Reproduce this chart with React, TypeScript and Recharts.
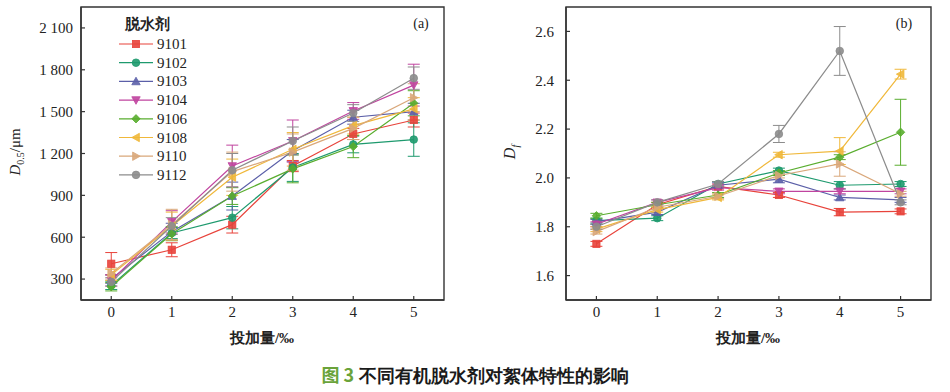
import React from 'react';
import { LineChart, Line, XAxis, YAxis, ErrorBar, ReferenceArea } from 'recharts';

// ── Data ──────────────────────────────────────────────────────────────────────

const DOSES = [0, 1, 2, 3, 4, 5];
const AGENTS = ['9101', '9102', '9103', '9104', '9106', '9108', '9110', '9112'];

const COLORS: Record<string, string> = {
  '9101': '#e8433b',
  '9102': '#1e9a6e',
  '9103': '#5b5fa8',
  '9104': '#c0449f',
  '9106': '#59ad2e',
  '9108': '#f0b83a',
  '9110': '#d9a77a',
  '9112': '#8c8c8c',
};
const SHAPES: Record<string, string> = {
  '9101': 'square',
  '9102': 'circle',
  '9103': 'up',
  '9104': 'down',
  '9106': 'diamond',
  '9108': 'left',
  '9110': 'right',
  '9112': 'circle',
};

// (a) D0.5 / μm
const D50: Record<string, number[]> = {
  '9101': [410, 510, 690, 1110, 1340, 1440],
  '9102': [255, 630, 740, 1100, 1265, 1300],
  '9103': [300, 640, 895, 1220, 1460, 1500],
  '9104': [290, 710, 1110, 1290, 1505, 1690],
  '9106': [245, 625, 895, 1090, 1250, 1560],
  '9108': [330, 680, 1030, 1230, 1400, 1520],
  '9110': [340, 690, 1070, 1210, 1380, 1600],
  '9112': [280, 680, 1080, 1290, 1490, 1740],
};
const D50_ERR: Record<string, number[]> = {
  '9101': [80, 50, 60, 40, 40, 50],
  '9102': [30, 40, 80, 100, 60, 120],
  '9103': [30, 60, 100, 80, 50, 60],
  '9104': [40, 80, 150, 150, 60, 150],
  '9106': [30, 50, 60, 100, 80, 90],
  '9108': [40, 100, 130, 120, 60, 80],
  '9110': [40, 110, 140, 130, 80, 100],
  '9112': [30, 60, 120, 100, 60, 80],
};

// (b) Df
const DF: Record<string, number[]> = {
  '9101': [1.73, 1.89, 1.965, 1.93, 1.86, 1.863],
  '9102': [1.825, 1.835, 1.975, 2.03, 1.97, 1.975],
  '9103': [1.82, 1.86, 1.97, 1.995, 1.92, 1.91],
  '9104': [1.81, 1.90, 1.96, 1.945, 1.945, 1.945],
  '9106': [1.845, 1.89, 1.93, 2.02, 2.085, 2.187],
  '9108': [1.79, 1.87, 1.92, 2.095, 2.11, 2.425],
  '9110': [1.78, 1.88, 1.925, 2.01, 2.057, 1.935],
  '9112': [1.80, 1.90, 1.975, 2.18, 2.52, 1.90],
};
const DF_ERR: Record<string, number[]> = {
  '9101': [0.01, 0.01, 0.01, 0.01, 0.015, 0.01],
  '9102': [0.01, 0.01, 0.01, 0.01, 0.015, 0.01],
  '9103': [0.01, 0.01, 0.01, 0.015, 0.01, 0.01],
  '9104': [0.01, 0.01, 0.01, 0.01, 0.01, 0.01],
  '9106': [0.01, 0.01, 0.01, 0.01, 0.01, 0.135],
  '9108': [0.01, 0.01, 0.01, 0.01, 0.055, 0.02],
  '9110': [0.01, 0.01, 0.01, 0.01, 0.05, 0.01],
  '9112': [0.01, 0.01, 0.01, 0.035, 0.1, 0.01],
};

const D50_TICKS = [300, 600, 900, 1200, 1500, 1800, 2100];
const DF_TICKS = [1.6, 1.8, 2.0, 2.2, 2.4, 2.6];

function buildRows(vals: Record<string, number[]>, errs: Record<string, number[]>) {
  return DOSES.map((x, i) => {
    const row: Record<string, number> = { x };
    AGENTS.forEach((a) => {
      row[`v${a}`] = vals[a][i];
      row[`e${a}`] = errs[a][i];
    });
    return row;
  });
}

const SERIF = "'Liberation Serif', 'DejaVu Serif', serif";
const AXIS = '#333';
const serifStyle = { fontFamily: SERIF };

// ── Markers ───────────────────────────────────────────────────────────────────

function Marker({ cx, cy, shape, color }: { cx: number; cy: number; shape: string; color: string }) {
  const s = 4.2;
  const common = { fill: color, stroke: color, strokeWidth: 0.8, fillOpacity: 0.9 };
  switch (shape) {
    case 'square':
      return <rect x={cx - 3.6} y={cy - 3.6} width={7.2} height={7.2} {...common} />;
    case 'circle':
      return <circle cx={cx} cy={cy} r={3.8} {...common} />;
    case 'up':
      return <polygon points={`${cx},${cy - s} ${cx + s},${cy + s * 0.8} ${cx - s},${cy + s * 0.8}`} {...common} />;
    case 'down':
      return <polygon points={`${cx},${cy + s} ${cx + s},${cy - s * 0.8} ${cx - s},${cy - s * 0.8}`} {...common} />;
    case 'left':
      return <polygon points={`${cx - s},${cy} ${cx + s * 0.8},${cy - s} ${cx + s * 0.8},${cy + s}`} {...common} />;
    case 'right':
      return <polygon points={`${cx + s},${cy} ${cx - s * 0.8},${cy - s} ${cx - s * 0.8},${cy + s}`} {...common} />;
    default:
      return <polygon points={`${cx},${cy - s} ${cx + s},${cy} ${cx},${cy + s} ${cx - s},${cy}`} {...common} />;
  }
}

function dotFor(agent: string) {
  return (p: any) => (
    <g key={`${agent}-${p.index}`}>
      <Marker cx={p.cx} cy={p.cy} shape={SHAPES[agent]} color={COLORS[agent]} />
    </g>
  );
}

function fmtThousands(v: number) {
  if (v < 1000) return String(v);
  return `${Math.floor(v / 1000)} ${String(v % 1000).padStart(3, '0')}`;
}

// ── Panel ─────────────────────────────────────────────────────────────────────

function Panel({ rows, domain, ticks, yWidth, rightMargin, tickMargin, fmt, width }: {
  rows: Record<string, number>[];
  domain: [number, number];
  ticks: number[];
  yWidth: number;
  rightMargin: number;
  tickMargin: number;
  fmt: (v: number) => string;
  width: number;
}) {
  const tick = { fontSize: 15, fill: '#222', style: serifStyle };
  return (
    <LineChart width={width} height={340} data={rows} margin={{ top: 7, right: rightMargin, left: 0, bottom: 0 }}
      style={serifStyle}>
      <ReferenceArea x1={-0.5} x2={5.5} y1={domain[0]} y2={domain[1]} fill="none" stroke={AXIS} strokeWidth={1.4} />
      <XAxis
        type="number" dataKey="x" domain={[-0.5, 5.5]} ticks={DOSES} interval={0} allowDataOverflow
        height={40} tickSize={-4} tickMargin={10} tick={tick}
        axisLine={{ stroke: AXIS, strokeWidth: 1.4 }} tickLine={{ stroke: AXIS, strokeWidth: 1.2 }}
      />
      <YAxis
        type="number" domain={domain} ticks={ticks} interval={0} allowDataOverflow
        width={yWidth} tickSize={-4} tickMargin={tickMargin} tick={tick} tickFormatter={fmt}
        axisLine={{ stroke: AXIS, strokeWidth: 1.4 }} tickLine={{ stroke: AXIS, strokeWidth: 1.2 }}
      />
      {AGENTS.map((a) => (
        <Line
          key={a}
          type="linear"
          dataKey={`v${a}`}
          stroke={COLORS[a]}
          strokeWidth={1.2}
          dot={dotFor(a)}
          activeDot={false}
          isAnimationActive={false}
        >
          <ErrorBar dataKey={`e${a}`} width={6} stroke={COLORS[a]} strokeWidth={1} direction="y" isAnimationActive={false} />
        </Line>
      ))}
    </LineChart>
  );
}

// ── Main ──────────────────────────────────────────────────────────────────────

export default function App() {
  const d50Rows = buildRows(D50, D50_ERR);
  const dfRows = buildRows(DF, DF_ERR);

  return (
    <div style={{ position: 'absolute', left: 0, top: 0, width: 950, height: 392, background: '#fff', overflow: 'hidden', fontFamily: SERIF }}>
      <div style={{ position: 'absolute', left: 0, top: 0 }}>
        <Panel rows={d50Rows} domain={[150, 2250]} ticks={D50_TICKS} yWidth={81} rightMargin={16}
          tickMargin={12} fmt={fmtThousands} width={460} />
      </div>
      <div style={{ position: 'absolute', left: 480, top: 0 }}>
        <Panel rows={dfRows} domain={[1.5, 2.7]} ticks={DF_TICKS} yWidth={86} rightMargin={19}
          tickMargin={16} fmt={(v) => v.toFixed(1)} width={470} />
      </div>

      <svg width={950} height={392} style={{ position: 'absolute', left: 0, top: 0, pointerEvents: 'none', fontFamily: SERIF }}>
        {/* axis titles */}
        <text transform="rotate(-90 20 152)" x={20} y={152} textAnchor="middle" style={serifStyle} fontSize={15} fill="#222">
          <tspan fontStyle="italic">D</tspan>
          <tspan fontSize={10} dy={4}>0.5</tspan>
          <tspan dy={-4}>/μm</tspan>
        </text>
        <text transform="rotate(-90 515 152)" x={515} y={152} textAnchor="middle" style={serifStyle} fontSize={16} fill="#222">
          <tspan fontStyle="italic">D</tspan>
          <tspan fontSize={10} dy={4} fontStyle="italic">f</tspan>
        </text>
        <text x={262} y={343} textAnchor="middle" style={serifStyle} fontSize={15} fontWeight="bold" fill="#222">投加量/‰</text>
        <text x={748} y={343} textAnchor="middle" style={serifStyle} fontSize={15} fontWeight="bold" fill="#222">投加量/‰</text>

        {/* panel tags */}
        <text x={421} y={28} textAnchor="middle" style={serifStyle} fontSize={14} fill="#222">(a)</text>
        <text x={904} y={28} textAnchor="middle" style={serifStyle} fontSize={14} fill="#222">(b)</text>

        {/* legend */}
        <text x={147} y={29} textAnchor="middle" style={serifStyle} fontSize={15} fontWeight="bold" fill="#222">脱水剂</text>
        {AGENTS.map((a, i) => {
          const y = 44 + i * 18.7;
          return (
            <g key={a}>
              <line x1={119} x2={153} y1={y} y2={y} stroke={COLORS[a]} strokeWidth={1.2} />
              <Marker cx={136} cy={y} shape={SHAPES[a]} color={COLORS[a]} />
              <text x={157} y={y + 5} style={serifStyle} fontSize={15} fill="#222">{a}</text>
            </g>
          );
        })}

        {/* caption */}
        <text x={475} y={382} textAnchor="middle" fontSize={18} fontWeight="bold" fill="#1a1a1a" style={serifStyle}>
          <tspan fill="#6aa33a" style={{ fontFamily: "'Noto Sans CJK SC', sans-serif" }}>图 3</tspan>
          <tspan> 不同有机脱水剂对絮体特性的影响</tspan>
        </text>
      </svg>
    </div>
  );
}
